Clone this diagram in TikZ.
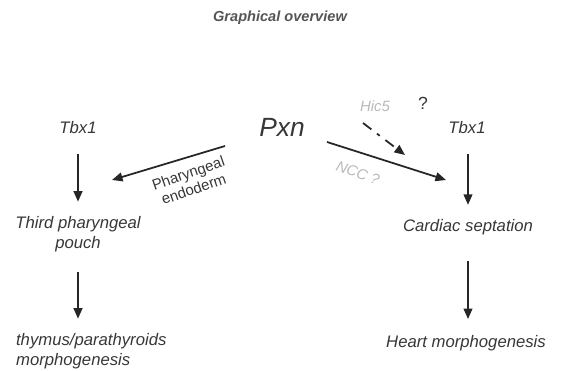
\documentclass[tikz,border=0pt]{standalone}
\usepackage{fontspec}
\setmainfont{Liberation Sans}
\usepackage{xcolor}
\definecolor{inkgray}{RGB}{55,55,55}
\definecolor{titlegray}{RGB}{85,85,85}
\definecolor{fadegray}{RGB}{185,185,185}
\usetikzlibrary{arrows.meta, positioning}

\begin{document}
\begin{tikzpicture}[x=0.02cm, y=-0.02cm,
    label/.style={font=\fontsize{9.5}{11.5}\selectfont\itshape, text=inkgray, align=center, inner sep=1pt},
    gene/.style={font=\fontsize{9.5}{11}\selectfont\itshape, text=inkgray, inner sep=1pt},
    faint/.style={font=\fontsize{8.5}{10}\selectfont\itshape, text=fadegray, inner sep=0pt},
    arr/.style={-{Triangle[length=6pt,width=5pt]}, line width=1pt, color=black!85},
    down/.style={arr, shorten <=10pt, shorten >=7pt}
]
    \useasboundingbox (0,0) rectangle (565,371);
    \node[font=\fontsize{8.3}{10}\selectfont\bfseries\itshape, text=titlegray] (title) at (280,18) {Graphical overview};

    % left branch
    \node[gene] (tbxl) at (78,128) {Tbx1};
    \node[label] (pouch) at (78,234) {Third pharyngeal\\pouch};
    \node[label, align=left, anchor=west] (thym) at (14,351) {thymus/parathyroids\\morphogenesis};
    \draw[down] (tbxl) -- (tbxl |- pouch.north);
    \draw[down] (tbxl |- pouch.south) -- (tbxl |- thym.north);

    % centre
    \node[font=\fontsize{15}{17}\selectfont\itshape, text=inkgray] (pxn) at (282,127) {Pxn};
    \coordinate (endoA) at (225,146);
    \coordinate (endoB) at (112,180);
    \draw[arr] (endoA) -- (endoB);
    \node[font=\fontsize{8.5}{9.5}\selectfont, text=inkgray, align=center, rotate=19, inner sep=0pt] (endo) at (191,181) {Pharyngeal\\endoderm};

    % right branch
    \node[faint] (hic) at (375,106) {Hic5};
    \node[font=\fontsize{10}{12}\selectfont, text=inkgray] (qm) at (423,103) {?};
    \node[gene] (tbxr) at (467,128) {Tbx1};
    \coordinate (nccA) at (327,142);
    \coordinate (nccB) at (446,180);
    \draw[arr] (nccA) -- (nccB);
    \node[faint, rotate=-20] (ncc) at (358,173) {NCC ?};
    \coordinate (hicA) at (363,123);
    \coordinate (hicB) at (405,155);
    \draw[arr, dash pattern=on 6pt off 4pt on 2pt off 4pt] (hicA) -- (hicB);
    \node[label] (sept) at (468,227) {Cardiac septation};
    \node[label] (heart) at (466,343) {Heart morphogenesis};
    \draw[down] (tbxr.south -| sept) -- (sept.north);
    \draw[arr, shorten <=14pt, shorten >=8pt] (sept) -- (sept |- heart.north);
\end{tikzpicture}
\end{document}
